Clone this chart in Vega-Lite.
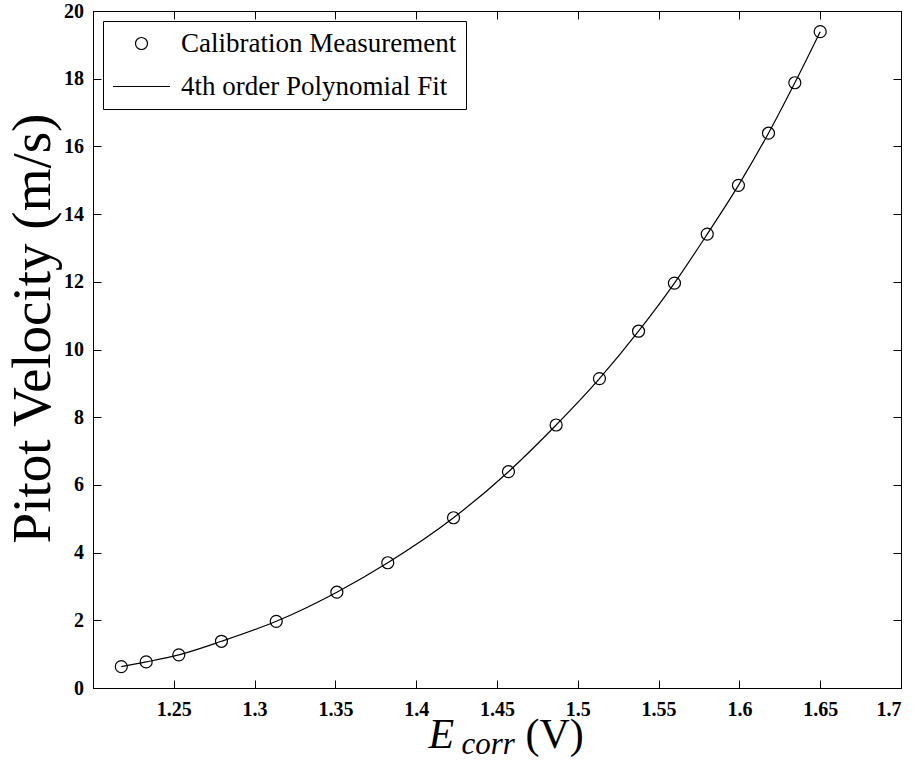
{
  "$schema": "https://vega.github.io/schema/vega-lite/v6.json",
  "width": 808,
  "height": 677,
  "autosize": {"type": "none"},
  "padding": {"left": 93, "top": 11, "right": 20, "bottom": 77},
  "background": "white",
  "config": {
    "font": "'Liberation Serif', 'Times New Roman', 'DejaVu Serif', serif",
    "view": {"stroke": "black", "strokeWidth": 1},
    "axis": {
      "grid": false,
      "domainColor": "black",
      "domainWidth": 1,
      "tickColor": "black",
      "tickSize": -8,
      "tickWidth": 1,
      "labelFont": "'Liberation Serif', 'Times New Roman', 'DejaVu Serif', serif",
      "labelFontWeight": "bold",
      "labelFontSize": 20,
      "labelColor": "black",
      "titleFont": "'Liberation Serif', 'Times New Roman', 'DejaVu Serif', serif",
      "titleFontWeight": "normal",
      "titleColor": "black"
    },
    "legend": {
      "orient": "top-left",
      "offset": 10,
      "padding": 9,
      "strokeColor": "black",
      "fillColor": "white",
      "labelFont": "'Liberation Serif', 'Times New Roman', 'DejaVu Serif', serif",
      "labelFontSize": 27,
      "labelColor": "black",
      "labelLimit": 500,
      "labelOffset": 10,
      "rowPadding": -15,
      "symbolStrokeColor": "black",
      "symbolStrokeWidth": 1.2
    }
  },
  "datasets": {
    "measurement": [
      {"E": 1.2175, "V": 0.63, "series": "Calibration Measurement"},
      {"E": 1.2329, "V": 0.77, "series": "Calibration Measurement"},
      {"E": 1.2531, "V": 0.98, "series": "Calibration Measurement"},
      {"E": 1.2795, "V": 1.38, "series": "Calibration Measurement"},
      {"E": 1.3134, "V": 1.97, "series": "Calibration Measurement"},
      {"E": 1.3509, "V": 2.83, "series": "Calibration Measurement"},
      {"E": 1.3824, "V": 3.70, "series": "Calibration Measurement"},
      {"E": 1.4231, "V": 5.03, "series": "Calibration Measurement"},
      {"E": 1.4571, "V": 6.39, "series": "Calibration Measurement"},
      {"E": 1.4866, "V": 7.77, "series": "Calibration Measurement"},
      {"E": 1.5134, "V": 9.14, "series": "Calibration Measurement"},
      {"E": 1.5376, "V": 10.54, "series": "Calibration Measurement"},
      {"E": 1.5598, "V": 11.96, "series": "Calibration Measurement"},
      {"E": 1.5801, "V": 13.41, "series": "Calibration Measurement"},
      {"E": 1.5994, "V": 14.85, "series": "Calibration Measurement"},
      {"E": 1.6180, "V": 16.39, "series": "Calibration Measurement"},
      {"E": 1.6343, "V": 17.88, "series": "Calibration Measurement"},
      {"E": 1.6500, "V": 19.39, "series": "Calibration Measurement"}
    ],
    "fit": [
      {"E": 1.2175, "V": 0.63, "series": "4th order Polynomial Fit"},
      {"E": 1.2329, "V": 0.77, "series": "4th order Polynomial Fit"},
      {"E": 1.2531, "V": 0.98, "series": "4th order Polynomial Fit"},
      {"E": 1.2795, "V": 1.38, "series": "4th order Polynomial Fit"},
      {"E": 1.3134, "V": 1.97, "series": "4th order Polynomial Fit"},
      {"E": 1.3509, "V": 2.83, "series": "4th order Polynomial Fit"},
      {"E": 1.3824, "V": 3.70, "series": "4th order Polynomial Fit"},
      {"E": 1.4231, "V": 5.03, "series": "4th order Polynomial Fit"},
      {"E": 1.4571, "V": 6.39, "series": "4th order Polynomial Fit"},
      {"E": 1.4866, "V": 7.77, "series": "4th order Polynomial Fit"},
      {"E": 1.5134, "V": 9.14, "series": "4th order Polynomial Fit"},
      {"E": 1.5376, "V": 10.54, "series": "4th order Polynomial Fit"},
      {"E": 1.5598, "V": 11.96, "series": "4th order Polynomial Fit"},
      {"E": 1.5801, "V": 13.41, "series": "4th order Polynomial Fit"},
      {"E": 1.5994, "V": 14.85, "series": "4th order Polynomial Fit"},
      {"E": 1.6180, "V": 16.39, "series": "4th order Polynomial Fit"},
      {"E": 1.6343, "V": 17.88, "series": "4th order Polynomial Fit"},
      {"E": 1.6500, "V": 19.39, "series": "4th order Polynomial Fit"}
    ]
  },
  "layer": [
    {
      "data": {"name": "fit"},
      "mark": {"type": "line", "color": "black", "strokeWidth": 1.2, "interpolate": "monotone"},
      "encoding": {
        "x": {
          "field": "E",
          "type": "quantitative",
          "scale": {"domain": [1.2, 1.7], "nice": false, "zero": false},
          "axis": {
            "orient": "bottom",
            "values": [1.25, 1.3, 1.35, 1.4, 1.45, 1.5, 1.55, 1.6, 1.65, 1.7],
            "format": ".3~g",
            "labelPadding": 19,
            "title": "E",
            "titleFontStyle": "italic",
            "titleFontSize": 42,
            "titleX": 335,
            "titleY": 59,
            "titleAlign": "left",
            "titleBaseline": "alphabetic"
          }
        },
        "y": {
          "field": "V",
          "type": "quantitative",
          "scale": {"domain": [0, 20], "nice": false},
          "axis": {
            "orient": "left",
            "values": [0, 2, 4, 6, 8, 10, 12, 14, 16, 18, 20],
            "format": "d",
            "labelPadding": 17.5,
            "title": "Pitot Velocity (m/s)",
            "titleFontSize": 55,
            "titleX": -43.5,
            "titleY": 317,
            "titleAngle": -90,
            "titleAlign": "center",
            "titleBaseline": "alphabetic"
          }
        }
      }
    },
    {
      "data": {"name": "measurement"},
      "mark": {"type": "point", "filled": false, "color": "black", "strokeWidth": 1.2, "opacity": 1},
      "encoding": {
        "x": {
          "field": "E",
          "type": "quantitative",
          "scale": {"domain": [1.2, 1.7], "nice": false, "zero": false},
          "axis": {
            "orient": "top",
            "values": [1.25, 1.3, 1.35, 1.4, 1.45, 1.5, 1.55, 1.6, 1.65, 1.7],
            "labels": false,
            "title": "corr",
            "titleFontStyle": "italic",
            "titleFontSize": 31,
            "titleX": 368,
            "titleY": 742,
            "titleAlign": "left",
            "titleBaseline": "alphabetic"
          }
        },
        "y": {
          "field": "V",
          "type": "quantitative",
          "scale": {"domain": [0, 20], "nice": false},
          "axis": {
            "orient": "right",
            "values": [0, 2, 4, 6, 8, 10, 12, 14, 16, 18, 20],
            "labels": false,
            "title": "(V)",
            "titleFontSize": 42,
            "titleAngle": 0,
            "titleX": -376,
            "titleY": 736,
            "titleAlign": "left",
            "titleBaseline": "alphabetic"
          }
        },
        "shape": {
          "field": "series",
          "type": "nominal",
          "scale": {"domain": ["Calibration Measurement", "4th order Polynomial Fit"], "range": ["circle", "stroke"]},
          "legend": {"title": null}
        },
        "size": {
          "field": "series",
          "type": "nominal",
          "scale": {"domain": ["Calibration Measurement", "4th order Polynomial Fit"], "range": [144, 3249]},
          "legend": {"title": null}
        }
      }
    }
  ],
  "resolve": {"axis": {"x": "independent", "y": "independent"}}
}
